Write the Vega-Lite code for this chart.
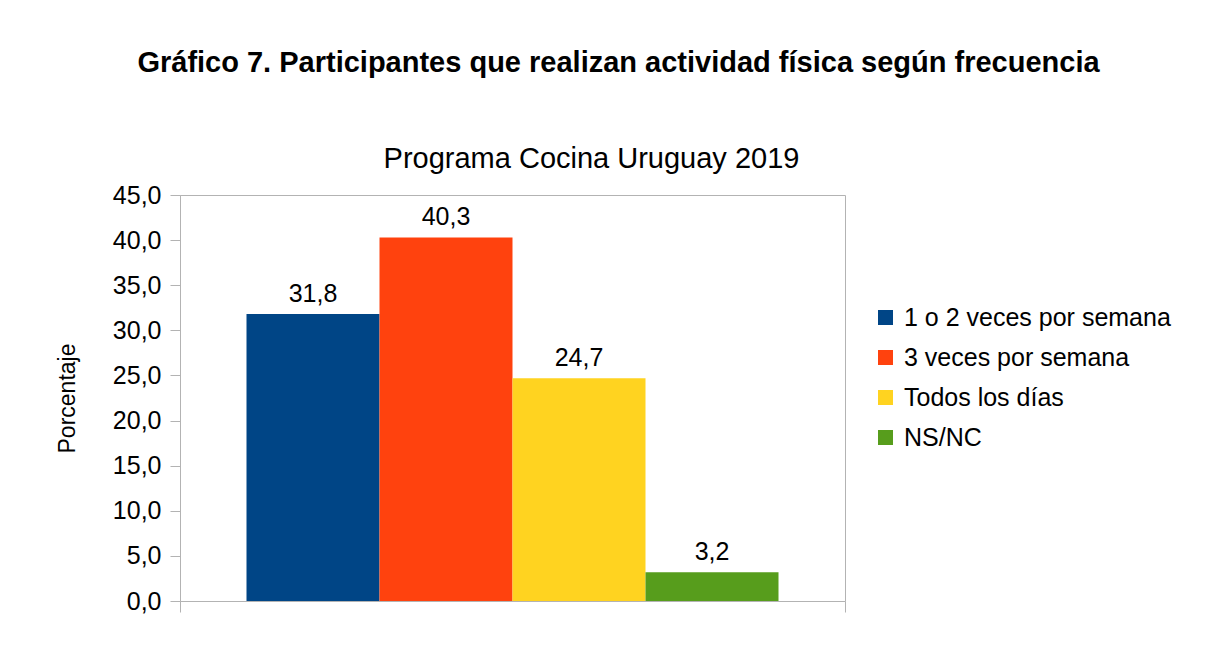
{
  "$schema": "https://vega.github.io/schema/vega-lite/v6.json",
  "width": 665,
  "height": 406,
  "autosize": {"type": "none"},
  "padding": {"left": 180, "top": 195, "right": 371, "bottom": 54},
  "background": "white",
  "config": {
    "font": "Liberation Sans",
    "view": {"stroke": "#b3b3b3", "strokeWidth": 1},
    "locale": {"number": {"decimal": ",", "thousands": ".", "grouping": [3], "currency": ["$", ""]}}
  },
  "title": {
    "text": "Gráfico 7. Participantes que realizan actividad física según frecuencia",
    "anchor": "middle",
    "frame": "group",
    "dx": 106,
    "offset": 66,
    "fontSize": 29,
    "fontWeight": "bold",
    "color": "#000000",
    "font": "Liberation Sans"
  },
  "data": {
    "values": [
      {"grupo": "", "serie": "1 o 2 veces por semana", "valor": 31.8},
      {"grupo": "", "serie": "3 veces por semana", "valor": 40.3},
      {"grupo": "", "serie": "Todos los días", "valor": 24.7},
      {"grupo": "", "serie": "NS/NC", "valor": 3.2}
    ]
  },
  "encoding": {
    "x": {"field": "grupo", "type": "nominal", "scale": {"paddingInner": 0, "paddingOuter": 0}},
    "xOffset": {"field": "serie", "type": "nominal", "sort": ["1 o 2 veces por semana", "3 veces por semana", "Todos los días", "NS/NC"], "scale": {"paddingInner": 0, "paddingOuter": 0.5}},
    "y": {"field": "valor", "type": "quantitative", "scale": {"domain": [0, 45], "nice": false, "zero": true},
      "axis": {"title": "Porcentaje", "values": [0, 5, 10, 15, 20, 25, 30, 35, 40, 45], "format": ".1f", "grid": false,
        "domainColor": "#b3b3b3", "tickColor": "#b3b3b3", "tickSize": 10, "labelFontSize": 25, "labelColor": "#000000",
        "labelPadding": 9, "titleFontSize": 23, "titleFontWeight": "normal", "titleColor": "#000000", "titlePadding": 33,
        "labelFont": "Liberation Sans", "titleFont": "Liberation Sans"}}
  },
  "layer": [
    {
      "mark": {"type": "bar"},
      "encoding": {
        "x": {"field": "grupo", "type": "nominal", "scale": {"paddingInner": 0, "paddingOuter": 0},
          "axis": {"orient": "bottom", "title": null, "labels": false, "domain": false, "ticks": true, "tickBand": "extent", "tickSize": 11, "tickColor": "#b3b3b3"}},
        "color": {"field": "serie", "type": "nominal",
          "scale": {"domain": ["1 o 2 veces por semana", "3 veces por semana", "Todos los días", "NS/NC"], "range": ["#004586", "#ff420e", "#ffd320", "#579d1c"]},
          "legend": {"title": null, "orient": "none", "legendX": 693, "legendY": 110, "symbolType": "square", "symbolSize": 225, "symbolStrokeWidth": 0,
            "labelFontSize": 25, "labelColor": "#000000", "rowPadding": 14, "labelOffset": 6, "labelLimit": 0, "labelFont": "Liberation Sans", "symbolOpacity": 1}}
      }
    },
    {
      "mark": {"type": "text", "baseline": "alphabetic", "dy": -12, "fontSize": 25, "color": "#000000", "font": "Liberation Sans"},
      "encoding": {
        "x": {"field": "grupo", "type": "nominal",
          "axis": {"orient": "top", "title": "Programa Cocina Uruguay 2019", "labels": false, "ticks": false, "domain": false,
            "titleFontSize": 29, "titleFontWeight": "normal", "titleColor": "#000000", "titleX": 411, "titlePadding": 22, "titleFont": "Liberation Sans"}},
        "text": {"field": "valor", "type": "quantitative", "format": ".1f"}
      }
    }
  ],
  "resolve": {"axis": {"x": "independent"}}
}
